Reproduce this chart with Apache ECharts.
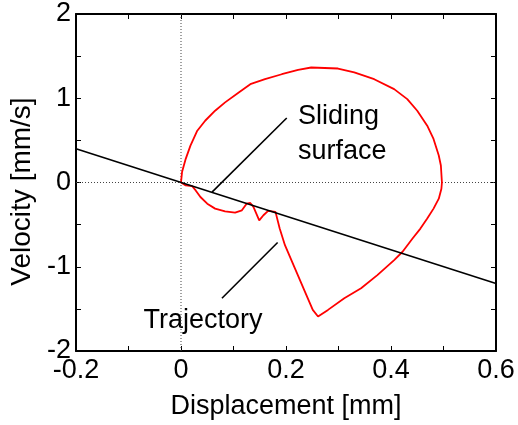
<!DOCTYPE html>
<html>
<head>
<meta charset="utf-8">
<script src="https://cdn.jsdelivr.net/npm/echarts@6/dist/echarts.min.js"></script>
<style>html,body{margin:0;padding:0;background:#fff}#c{width:518px;height:425px}</style>
</head>
<body>
<div id="c"></div>
<script>
// Data (displacement [mm], velocity [mm/s])
var trajectory = [
  [0.000, 0.000], [0.002, 0.124], [0.009, 0.281], [0.018, 0.438], [0.031, 0.615],
  [0.046, 0.733], [0.065, 0.852], [0.084, 0.951], [0.110, 1.069], [0.132, 1.167],
  [0.160, 1.226], [0.192, 1.285], [0.223, 1.336], [0.248, 1.365], [0.299, 1.353],
  [0.330, 1.306], [0.368, 1.226], [0.406, 1.108], [0.431, 0.990], [0.450, 0.852],
  [0.469, 0.674], [0.481, 0.517], [0.491, 0.320], [0.495, 0.202], [0.497, 0.000],
  [0.496, -0.074], [0.491, -0.192], [0.481, -0.310], [0.469, -0.428], [0.456, -0.547],
  [0.441, -0.665], [0.422, -0.822], [0.406, -0.921], [0.374, -1.099], [0.343, -1.256],
  [0.311, -1.374], [0.280, -1.512], [0.261, -1.590], [0.251, -1.512], [0.236, -1.295],
  [0.217, -1.019], [0.198, -0.744], [0.188, -0.547], [0.180, -0.349], [0.179, -0.330],
  [0.166, -0.337], [0.157, -0.389], [0.149, -0.449], [0.138, -0.290], [0.132, -0.243],
  [0.125, -0.251], [0.116, -0.330], [0.103, -0.358], [0.084, -0.342], [0.065, -0.310],
  [0.050, -0.251], [0.037, -0.172], [0.028, -0.094], [0.021, -0.042], [0.009, -0.035],
  [0.000, 0.000]
];
var slidingSurface = [[-0.2, 0.4], [0.6, -1.2]];
var slidingLeader = [[0.2014, 0.765], [0.0591, -0.115]];
var trajectoryLeader = [[0.078, -1.374], [0.184, -0.712]];
var zeroVertical = [[0, -2], [0, 2]];
var zeroHorizontal = [[-0.2, 0], [0.6, 0]];
var xTickLabels = {'-0.2': '-0.2', '0': '0', '0.2': '0.2', '0.4': '0.4', '0.6': '0.6'};
var yTickLabels = {'-2': '-2', '-1': '-1', '0': '0', '1': '1', '2': '2'};
var xName = 'Displacement [mm]';
var yName = 'Velocity [mm/s]';
var labelSliding = ['Sliding', 'surface'];
var labelTrajectory = 'Trajectory';

var FONT = 'Liberation Sans, Arial, sans-serif';
var FS = 27;
var chart = echarts.init(document.getElementById('c'), null, {renderer: 'canvas'});

function xFmt(v) {
  var k = (Math.round(v * 10) / 10).toString();
  return xTickLabels.hasOwnProperty(k) ? xTickLabels[k] : '';
}
function yFmt(v) {
  var k = (Math.round(v * 2) / 2).toString();
  return yTickLabels.hasOwnProperty(k) ? yTickLabels[k] : '';
}

var axisLine = {show: true, onZero: false, lineStyle: {color: '#000', width: 2}};
var tick = {show: true, inside: true, length: 5, lineStyle: {color: '#000', width: 1}};

chart.setOption({
  animation: false,
  backgroundColor: '#fff',
  grid: {left: 73, right: 22, top: 14, bottom: 72},
  xAxis: [{
    type: 'value', min: -0.2, max: 0.6, interval: 0.1, position: 'bottom',
    axisLine: axisLine, axisTick: tick, splitLine: {show: false},
    axisLabel: {formatter: xFmt, color: '#000', fontSize: FS, fontFamily: FONT, margin: 6},
    name: xName, nameLocation: 'middle', nameGap: 42,
    nameTextStyle: {color: '#000', fontSize: FS, fontFamily: FONT}
  }, {
    type: 'value', min: -0.2, max: 0.6, interval: 0.1, position: 'top',
    axisLine: axisLine, axisTick: tick, splitLine: {show: false}, axisLabel: {show: false}
  }],
  yAxis: [{
    type: 'value', min: -2, max: 2, interval: 0.5, position: 'left',
    axisLine: axisLine, axisTick: tick, splitLine: {show: false},
    axisLabel: {formatter: yFmt, color: '#000', fontSize: FS, fontFamily: FONT, margin: 5},
    name: yName, nameLocation: 'middle', nameGap: 40,
    nameTextStyle: {color: '#000', fontSize: 28, fontFamily: FONT, padding: [0, 18, 0, 0]}
  }, {
    type: 'value', min: -2, max: 2, interval: 0.5, position: 'right',
    axisLine: axisLine, axisTick: tick, splitLine: {show: false}, axisLabel: {show: false}
  }],
  series: [
    {type: 'line', data: zeroVertical, symbol: 'none', silent: true,
     lineStyle: {color: '#444', width: 1, type: [1, 2]}},
    {type: 'line', data: zeroHorizontal, symbol: 'none', silent: true,
     lineStyle: {color: '#444', width: 1, type: [1, 2]}},
    {type: 'line', data: trajectory, symbol: 'none', silent: true,
     lineStyle: {color: '#ff0000', width: 1.8}},
    {type: 'line', data: slidingSurface, symbol: 'none', silent: true,
     lineStyle: {color: '#000', width: 1.6}},
    {type: 'line', data: slidingLeader, symbol: 'none', silent: true,
     lineStyle: {color: '#000', width: 1.6}},
    {type: 'line', data: trajectoryLeader, symbol: 'none', silent: true,
     lineStyle: {color: '#000', width: 1.6}}
  ],
  graphic: [
    {type: 'text', x: 298, y: 117, style: {text: labelSliding[0], fill: '#000', font: FS + 'px ' + FONT, textVerticalAlign: 'middle', textAlign: 'left'}},
    {type: 'text', x: 298, y: 152, style: {text: labelSliding[1], fill: '#000', font: FS + 'px ' + FONT, textVerticalAlign: 'middle', textAlign: 'left'}},
    {type: 'text', x: 203, y: 321, style: {text: labelTrajectory, fill: '#000', font: FS + 'px ' + FONT, textVerticalAlign: 'middle', textAlign: 'center'}}
  ]
});
</script>
</body>
</html>
